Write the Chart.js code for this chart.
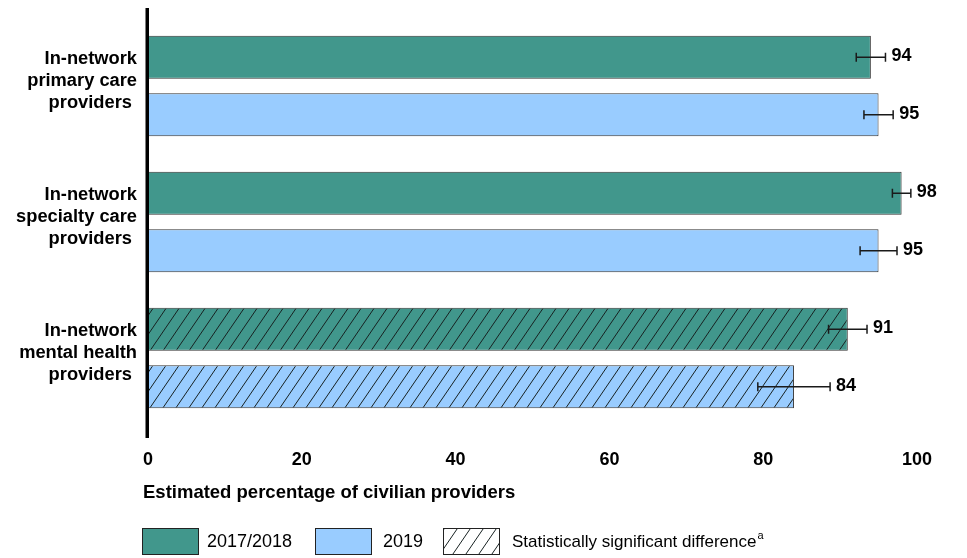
<!DOCTYPE html>
<html>
<head>
<meta charset="utf-8">
<script src="https://cdn.jsdelivr.net/npm/chart.js@4.4.1/dist/chart.umd.min.js"></script>
<style>
  html, body { margin: 0; padding: 0; background: #ffffff; }
  canvas { display: block; }
</style>
</head>
<body>
<canvas id="chart" width="967" height="558"></canvas>
<script>
// Provider categories (multi-line labels on the vertical axis)
const categories = [
  ["In-network", "primary care", "providers "],
  ["In-network", "specialty care", "providers "],
  ["In-network", "mental health", "providers "]
];
const seriesNames = ["2017/2018", "2019"];
// Estimated percentages
const values2017 = [94, 98, 91];
const values2019 = [95, 95, 84];
// Margins of error (half-width of each error bar, percentage points)
const margin2017 = [1.9, 1.2, 2.5];
const margin2019 = [1.9, 2.4, 4.7];
// Whether the change between survey years is statistically significant
const significant = [false, false, true];
const xTickValues = [0, 20, 40, 60, 80, 100];
const axisTitle = "Estimated percentage of civilian providers";
const significanceLabel = "Statistically significant difference";
const significanceNote = "a";

const FONT = "'Liberation Sans', Arial, Helvetica, sans-serif";
const TEAL = "#41978c";
const BLUE = "#99ccff";
const EDGE = "#333333";

Chart.defaults.font.family = FONT;
Chart.defaults.color = "#000";

// Diagonal hatch fill used for bars with a significant difference
function hatchPattern(bg) {
  const w = 13, h = 19;
  const c = document.createElement("canvas");
  c.width = w; c.height = h;
  const g = c.getContext("2d");
  if (bg) { g.fillStyle = bg; g.fillRect(0, 0, w, h); }
  g.strokeStyle = "#182222";
  g.lineWidth = 1;
  for (const dx of [-w, 0, w]) {
    g.beginPath();
    g.moveTo(dx - 1, h + h / w);
    g.lineTo(dx + w + 1, -h / w);
    g.stroke();
  }
  return g.createPattern(c, "repeat");
}

function fills(color) {
  const pat = hatchPattern(color);
  return significant.map(s => (s ? pat : color));
}

// Error bars and value labels drawn on top of the bars
const errorBarPlugin = {
  id: "errorBars",
  afterDatasetsDraw(chart) {
    const ctx = chart.ctx;
    const xs = chart.scales.x;
    chart.data.datasets.forEach((ds, di) => {
      const meta = chart.getDatasetMeta(di);
      meta.data.forEach((bar, i) => {
        const v = ds.data[i];
        const m = ds.margins[i];
        const x0 = xs.getPixelForValue(v - m);
        const x1 = xs.getPixelForValue(v + m);
        const y = bar.y;
        ctx.save();
        ctx.strokeStyle = "#1a1a1a";
        ctx.lineWidth = 1.5;
        ctx.beginPath();
        ctx.moveTo(x0, y); ctx.lineTo(x1, y);
        ctx.moveTo(x0, y - 4.5); ctx.lineTo(x0, y + 4.5);
        ctx.moveTo(x1, y - 4.5); ctx.lineTo(x1, y + 4.5);
        ctx.stroke();
        ctx.fillStyle = "#000";
        ctx.font = "bold 18px " + FONT;
        ctx.textAlign = "left";
        ctx.textBaseline = "middle";
        ctx.fillText(String(v), x1 + 6, y - 1);
        ctx.restore();
      });
    });
  }
};

// Vertical axis line, axis title and legend
const framePlugin = {
  id: "frame",
  afterDraw(chart) {
    const ctx = chart.ctx;
    const area = chart.chartArea;
    ctx.save();
    ctx.fillStyle = "#000";
    ctx.fillRect(area.left - 2.5, area.top - 10, 3.5, area.bottom - area.top + 22);

    ctx.font = "bold 18.5px " + FONT;
    ctx.textAlign = "left";
    ctx.textBaseline = "middle";
    ctx.fillText(axisTitle, 143, 493);

    const boxY = 528, boxH = 27, boxW = 57, textY = 542;
    const items = [
      { x: 142, tx: 207, size: 18, fill: TEAL, label: seriesNames[0] },
      { x: 315, tx: 383, size: 18, fill: BLUE, label: seriesNames[1] },
      { x: 443, tx: 512, size: 17, fill: hatchPattern(null), label: significanceLabel, note: significanceNote }
    ];
    items.forEach(it => {
      ctx.fillStyle = "#fff";
      ctx.fillRect(it.x, boxY, boxW, boxH);
      ctx.fillStyle = it.fill;
      ctx.fillRect(it.x, boxY, boxW, boxH);
      ctx.strokeStyle = "#222";
      ctx.lineWidth = 1;
      ctx.strokeRect(it.x + 0.5, boxY + 0.5, boxW - 1, boxH - 1);
      ctx.fillStyle = "#000";
      ctx.font = it.size + "px " + FONT;
      ctx.textAlign = "left";
      ctx.textBaseline = "middle";
      ctx.fillText(it.label, it.tx, textY);
      if (it.note) {
        const w = ctx.measureText(it.label).width;
        ctx.font = "11px " + FONT;
        ctx.fillText(it.note, it.tx + w + 1, textY - 6);
      }
    });
    ctx.restore();
  }
};

new Chart(document.getElementById("chart"), {
  type: "bar",
  data: {
    labels: categories,
    datasets: [
      {
        label: seriesNames[0],
        data: values2017,
        margins: margin2017,
        backgroundColor: fills(TEAL),
        borderColor: EDGE,
        borderWidth: 1
      },
      {
        label: seriesNames[1],
        data: values2019,
        margins: margin2019,
        backgroundColor: fills(BLUE),
        borderColor: EDGE,
        borderWidth: 1
      }
    ]
  },
  options: {
    indexAxis: "y",
    responsive: false,
    animation: false,
    devicePixelRatio: 1,
    categoryPercentage: 0.846,
    barPercentage: 0.748,
    layout: { padding: { top: 18, right: 50, left: 0, bottom: 0 } },
    plugins: {
      legend: { display: false },
      tooltip: { enabled: false }
    },
    scales: {
      x: {
        min: 0,
        max: 100,
        afterBuildTicks(scale) { scale.ticks = xTickValues.map(v => ({ value: v })); },
        afterFit(scale) { scale.height = 132; },
        grid: { display: false, drawTicks: false },
        border: { display: false },
        ticks: {
          padding: 23,
          color: "#000",
          font: { size: 18, weight: "bold" }
        }
      },
      y: {
        afterFit(scale) {
          scale.width = 148;
          scale.paddingTop = 0;
          scale.paddingBottom = 0;
        },
        grid: { display: false, drawTicks: false },
        border: { display: false },
        ticks: {
          padding: 11,
          labelOffset: -5,
          color: "#000",
          font: { size: 18.3, weight: "bold" }
        }
      }
    }
  },
  plugins: [errorBarPlugin, framePlugin]
});
</script>
</body>
</html>
